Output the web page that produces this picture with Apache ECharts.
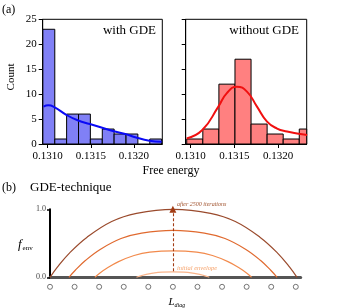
<!DOCTYPE html>
<html><head><meta charset="utf-8">
<script src="https://cdn.jsdelivr.net/npm/echarts@6/dist/echarts.min.js"></script>
<style>html,body{margin:0;padding:0;background:#fff}#c{width:341px;height:308px}</style>
</head><body><div id="c"></div>
<script>
// ---- Panel (a) data ----
const xTicks = [0.1310, 0.1315, 0.1320];
const yTicksCount = [0, 5, 10, 15, 20, 25];
const leftBinEdges = [0.130945, 0.131083, 0.131220, 0.131358, 0.131495, 0.131633, 0.131770, 0.131908, 0.132045, 0.132183, 0.132320];
const leftCounts = [23, 1, 6, 6, 1, 3, 2, 2, 0, 1];
const rightBinEdges = [0.130955, 0.131139, 0.131323, 0.131507, 0.131691, 0.131875, 0.132059, 0.132243, 0.132427];
const rightCounts = [1, 3, 12, 17, 4, 2, 1, 3];
const leftKdeX = [0.130952, 0.131009, 0.131067, 0.131221, 0.131354, 0.131489, 0.131623, 0.131756, 0.131899, 0.132025, 0.132178, 0.132320];
const leftKdeY = [7.5, 7.75, 7.5, 5.8, 4.7, 4.0, 3.3, 2.6, 2.0, 1.3, 0.67, 0.47];
const rightKdeX = [0.130954, 0.131133, 0.131317, 0.131414, 0.131529, 0.131644, 0.131759, 0.131874, 0.131989, 0.132103, 0.132218, 0.132333];
const rightKdeY = [1.1, 2.8, 7.5, 10.2, 11.5, 10.5, 7.5, 4.5, 3.1, 2.5, 2.1, 1.8];

// ---- Panel (b) data ----
const siteX = [0, 1, 2, 3, 4, 5, 6, 7, 8, 9, 10];
const siteY = -0.14;
const arc1X = [0, 0.30, 0.80, 1.51, 2.51, 3.52, 5.03, 6.53, 7.54, 8.54, 9.25, 9.75, 10.05];
const arc1Y = [0, 0.15, 0.36, 0.59, 0.82, 0.94, 1.0, 0.94, 0.82, 0.59, 0.36, 0.15, 0];
const arc2X = [0.77, 1.02, 1.45, 2.04, 2.89, 3.73, 5.01, 6.28, 7.12, 7.97, 8.56, 8.99, 9.24];
const arc2Y = [0, 0.10, 0.25, 0.41, 0.57, 0.65, 0.69, 0.65, 0.57, 0.41, 0.25, 0.10, 0];
const arc3X = [1.83, 2.02, 2.34, 2.79, 3.42, 4.06, 5.02, 5.97, 6.61, 7.24, 7.69, 8.01, 8.2];
const arc3Y = [0, 0.06, 0.14, 0.23, 0.32, 0.37, 0.39, 0.37, 0.32, 0.23, 0.14, 0.06, 0];
const arc4X = [3.52, 3.61, 3.76, 3.96, 4.26, 4.56, 5.0, 5.44, 5.74, 6.04, 6.24, 6.39, 6.48];
const arc4Y = [0, 0.012, 0.029, 0.047, 0.066, 0.075, 0.08, 0.075, 0.066, 0.047, 0.029, 0.012, 0];
const arrowX = 5.0;
const arrowY = [0.09, 1.0];

const SERIF = '"Liberation Serif", "DejaVu Serif", serif';
const zip = (xs, ys) => xs.map((x, i) => [x, ys[i]]);
const bins = (edges, counts) => counts.map((c, i) => [edges[i], edges[i + 1], c]);

function renderBar(params, api) {
  const c = api.value(2);
  if (!c) return null;
  const p0 = api.coord([api.value(0), c]);
  const p1 = api.coord([api.value(1), 0]);
  const cs = params.coordSys;
  const shape = echarts.graphic.clipRectByRect(
    {x: p0[0], y: p0[1], width: p1[0] - p0[0], height: p1[1] - p0[1]},
    {x: cs.x, y: cs.y, width: cs.width, height: cs.height});
  if (!shape) return null;
  return {type: 'rect', shape: shape, style: {fill: api.visual('color'), stroke: '#000', lineWidth: 1}};
}

const xMin = 0.130943, xMax = 0.132328;
function histX(gi) {
  return {
    type: 'value', gridIndex: gi, min: xMin, max: xMax,
    axisLine: {show: true, onZero: false, lineStyle: {color: '#000', width: 1}},
    axisTick: {show: true, length: 4, customValues: xTicks, lineStyle: {color: '#000'}},
    axisLabel: {show: true, customValues: xTicks, formatter: v => v.toFixed(4), fontFamily: SERIF, fontSize: 11, color: '#000', margin: 7},
    splitLine: {show: false}
  };
}
function histY(gi, labels) {
  return {
    type: 'value', gridIndex: gi, min: 0, max: 25, interval: 5,
    axisLine: {show: true, lineStyle: {color: '#000', width: 1}},
    axisTick: {show: true, length: 4, inside: false, lineStyle: {color: '#000'}},
    axisLabel: {show: labels, fontFamily: SERIF, fontSize: 11, color: '#000', margin: 6},
    splitLine: {show: false}
  };
}

const chart = echarts.init(document.getElementById('c'), null, {renderer: 'canvas'});
chart.setOption({
  animation: false,
  backgroundColor: '#fff',
  grid: [
    {left: 42.7, top: 19.3, width: 119.6, height: 124.7, show: true, borderColor: '#000', borderWidth: 1, backgroundColor: 'transparent'},
    {left: 185.7, top: 19.3, width: 121, height: 124.7, show: true, borderColor: '#000', borderWidth: 1, backgroundColor: 'transparent'},
    {left: 50, top: 209.3, width: 250.7, height: 68}
  ],
  xAxis: [
    histX(0), histX(1),
    {type: 'value', gridIndex: 2, min: 0, max: 10.2,
     axisLine: {show: true, onZero: false, lineStyle: {color: '#555', width: 3}},
     axisTick: {show: false}, axisLabel: {show: false}, splitLine: {show: false}}
  ],
  yAxis: [
    histY(0, true), histY(1, false),
    {type: 'value', gridIndex: 2, min: 0, max: 1, interval: 1,
     axisLine: {show: true, lineStyle: {color: '#000', width: 2}},
     axisTick: {show: true, length: 3, lineStyle: {color: '#000', width: 1.5}},
     axisLabel: {show: true, formatter: v => v.toFixed(1), fontFamily: SERIF, fontSize: 8, color: '#444', margin: 4},
     splitLine: {show: false}}
  ],
  series: [
    {type: 'custom', xAxisIndex: 0, yAxisIndex: 0, renderItem: renderBar, encode: {x: [0, 1], y: 2},
     itemStyle: {color: '#8080f6'}, data: bins(leftBinEdges, leftCounts), z: 2},
    {type: 'line', xAxisIndex: 0, yAxisIndex: 0, data: zip(leftKdeX, leftKdeY), smooth: 0.5, showSymbol: false,
     lineStyle: {color: '#0a0af5', width: 2}, z: 3},
    {type: 'custom', xAxisIndex: 1, yAxisIndex: 1, renderItem: renderBar, encode: {x: [0, 1], y: 2},
     itemStyle: {color: '#ff8080'}, data: bins(rightBinEdges, rightCounts), z: 2},
    {type: 'line', xAxisIndex: 1, yAxisIndex: 1, data: zip(rightKdeX, rightKdeY), smooth: 0.5, showSymbol: false,
     lineStyle: {color: '#f01010', width: 2}, z: 3},
    {type: 'line', xAxisIndex: 2, yAxisIndex: 2, data: zip(arc1X, arc1Y), smooth: 0.4, showSymbol: false, clip: false,
     lineStyle: {color: '#9a4a2c', width: 1.2}},
    {type: 'line', xAxisIndex: 2, yAxisIndex: 2, data: zip(arc2X, arc2Y), smooth: 0.4, showSymbol: false, clip: false,
     lineStyle: {color: '#e0692e', width: 1.2}},
    {type: 'line', xAxisIndex: 2, yAxisIndex: 2, data: zip(arc3X, arc3Y), smooth: 0.4, showSymbol: false, clip: false,
     lineStyle: {color: '#f28a4c', width: 1.2}},
    {type: 'line', xAxisIndex: 2, yAxisIndex: 2, data: zip(arc4X, arc4Y), smooth: 0.4, showSymbol: false, clip: false,
     lineStyle: {color: '#f9b48a', width: 1.2}},
    {type: 'line', xAxisIndex: 2, yAxisIndex: 2, data: [], showSymbol: false,
     markLine: {silent: true, symbol: ['none', 'triangle'], symbolSize: [7, 7], label: {show: false},
       lineStyle: {color: '#a33c14', type: [3, 2], width: 1.1},
       data: [[{coord: [arrowX, arrowY[0]]}, {coord: [arrowX, arrowY[1]]}]]}},
    {type: 'scatter', xAxisIndex: 2, yAxisIndex: 2, data: siteX.map(x => [x, siteY]), clip: false,
     symbol: 'circle', symbolSize: 5, itemStyle: {color: '#fff', borderColor: '#555', borderWidth: 1}}
  ],
  graphic: [
    {type: 'text', x: 2, y: 10, style: {text: '(a)', font: '12px ' + SERIF, fill: '#000', textVerticalAlign: 'middle'}},
    {type: 'text', x: 156, y: 31, style: {text: 'with GDE', font: '13px ' + SERIF, fill: '#000', textAlign: 'right', textVerticalAlign: 'middle'}},
    {type: 'text', x: 299, y: 31, style: {text: 'without GDE', font: '13px ' + SERIF, fill: '#000', textAlign: 'right', textVerticalAlign: 'middle'}},
    {type: 'text', x: 11, y: 77, rotation: Math.PI / 2, style: {text: 'Count', font: '11px ' + SERIF, fill: '#000', textAlign: 'center', textVerticalAlign: 'middle'}},
    {type: 'text', x: 171, y: 171, style: {text: 'Free energy', font: '12px ' + SERIF, fill: '#000', textAlign: 'center', textVerticalAlign: 'middle'}},
    {type: 'text', x: 2, y: 188, style: {text: '(b)', font: '12px ' + SERIF, fill: '#000', textVerticalAlign: 'middle'}},
    {type: 'text', x: 30, y: 188, style: {text: 'GDE-technique', font: '13px ' + SERIF, fill: '#000', textVerticalAlign: 'middle'}},
    {type: 'text', x: 177, y: 204, style: {text: 'after 2500 iterations', font: 'italic 6px ' + SERIF, fill: '#a0522d', textVerticalAlign: 'middle'}},
    {type: 'text', x: 177, y: 268.5, style: {text: 'initial envelope', font: 'italic 6.5px ' + SERIF, fill: '#f6a36c', textVerticalAlign: 'middle'}},
    {type: 'text', x: 18, y: 245, style: {
      rich: {f: {font: 'italic 13px ' + SERIF, fill: '#000'}, s: {font: '7px ' + SERIF, fill: '#000', padding: [6, 0, 0, 1]}},
      text: '{f|f}{s|env}', textVerticalAlign: 'middle'}},
    {type: 'text', x: 168.5, y: 302, style: {
      rich: {f: {font: 'italic 11px ' + SERIF, fill: '#000'}, s: {font: 'italic 6px ' + SERIF, fill: '#000', padding: [6, 0, 0, 0]}},
      text: '{f|L}{s|diag}', textVerticalAlign: 'middle'}}
  ]
});
</script>
</body></html>
